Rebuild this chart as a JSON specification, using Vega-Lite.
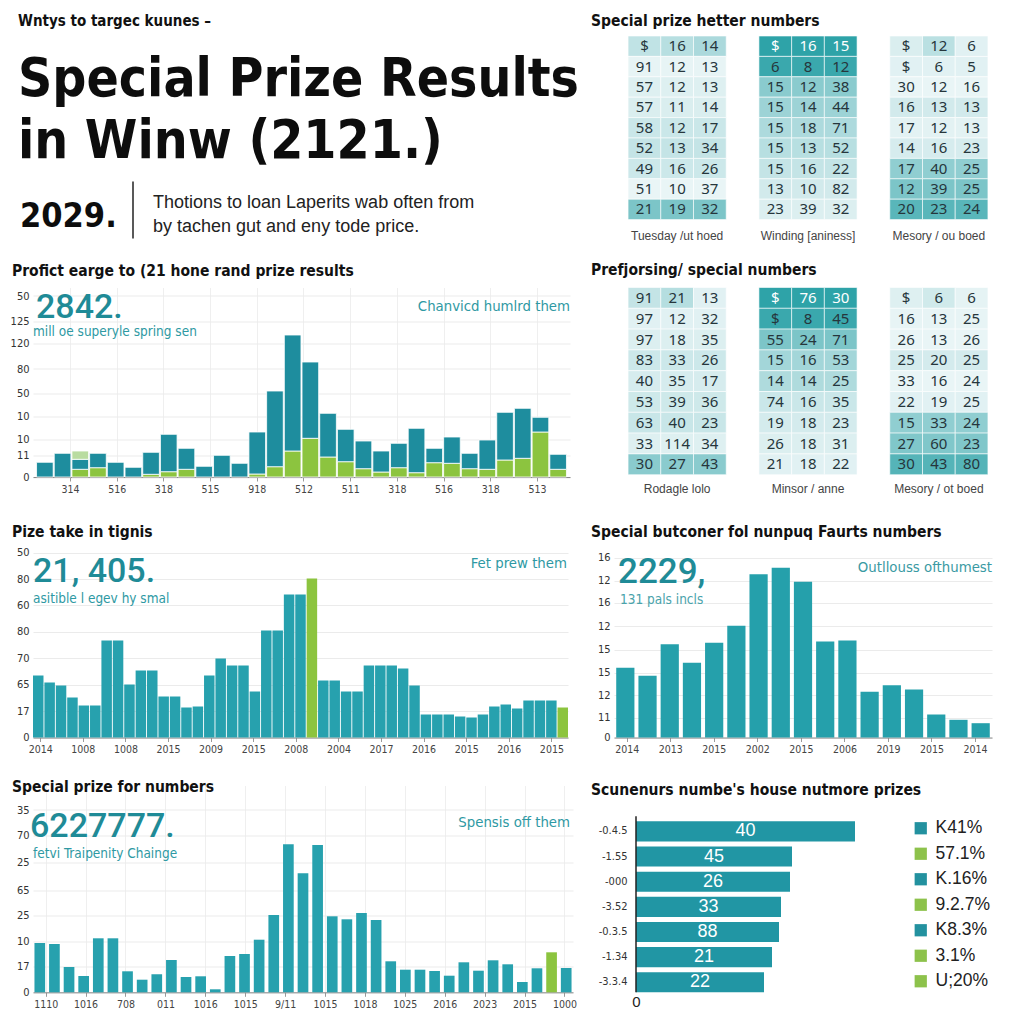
{
"$schema": "https://vega.github.io/schema/vega-lite/v6.json",
"background": "#ffffff",
"padding": {"left": 10, "top": 13, "right": 0, "bottom": 0},
"autosize": {"type": "pad"},
"columns": 2,
"bounds": "flush",
"spacing": {"row": 47.5, "column": 41},
"config": {
  "view": {"stroke": null},
  "axis": {"labelFont": "DejaVu Sans Condensed, sans-serif", "labelFontSize": 11, "labelColor": "#333333", "domain": false, "ticks": false, "gridColor": "#ebebeb", "labelOverlap": false, "labelFlush": false, "labelPadding": 4},
  "title": {"anchor": "start", "frame": "group", "baseline": "middle", "offset": 0, "font": "DejaVu Sans Condensed, sans-serif", "fontSize": 15.5, "fontWeight": "bold", "color": "#111111"}
},
"datasets": {
  "notes": [
    {"id":"kicker","t":"Wntys to targec kuunes –"},
    {"id":"h1","t":"Special Prize Results"},
    {"id":"h2","t":"in Winw (2121.)"},
    {"id":"year","t":"2029."},
    {"id":"d1","t":"Thotions to loan Laperits wab often from"},
    {"id":"d2","t":"by tachen gut and eny tode price."},
    {"id":"c2big","t":"2842."},
    {"id":"c2sub","t":"mill oe superyle spring sen"},
    {"id":"c2side","t":"Chanvicd humlrd them"},
    {"id":"c3big","t":"21, 405."},
    {"id":"c3sub","t":"asitible l egev hy smal"},
    {"id":"c3side","t":"Fet prew them"},
    {"id":"c5big","t":"2229,"},
    {"id":"c5sub","t":"131 pals incls"},
    {"id":"c5side","t":"Outllouss ofthumest"},
    {"id":"c4big","t":"6227777."},
    {"id":"c4sub","t":"fetvi Traipenity Chainge"},
    {"id":"c4side","t":"Spensis off them"}
  ],
  "c2": [
    {"slot":1,"kind":"main","value":14.7},
    {"slot":2,"kind":"main","value":23.7},
    {"slot":3,"kind":"special","value":7.7},{"slot":3,"kind":"main","value":10},{"slot":3,"kind":"cap","value":8.3},
    {"slot":4,"kind":"special","value":9.3},{"slot":4,"kind":"main","value":14.4},
    {"slot":5,"kind":"main","value":14.7},
    {"slot":6,"kind":"main","value":9.7},
    {"slot":7,"kind":"special","value":2.7},{"slot":7,"kind":"main","value":22},
    {"slot":8,"kind":"special","value":5.3},{"slot":8,"kind":"main","value":37.4},
    {"slot":9,"kind":"special","value":7.7},{"slot":9,"kind":"main","value":21},
    {"slot":10,"kind":"main","value":10.7},
    {"slot":11,"kind":"main","value":21.7},
    {"slot":12,"kind":"main","value":13.7},
    {"slot":13,"kind":"special","value":3},{"slot":13,"kind":"main","value":42},
    {"slot":14,"kind":"special","value":10.3},{"slot":14,"kind":"main","value":75.7},
    {"slot":15,"kind":"special","value":26},{"slot":15,"kind":"main","value":116},
    {"slot":16,"kind":"special","value":38.7},{"slot":16,"kind":"main","value":76.3},
    {"slot":17,"kind":"special","value":20},{"slot":17,"kind":"main","value":43.7},
    {"slot":18,"kind":"special","value":15.3},{"slot":18,"kind":"main","value":32.4},
    {"slot":19,"kind":"special","value":8.3},{"slot":19,"kind":"main","value":27.7},
    {"slot":20,"kind":"special","value":5},{"slot":20,"kind":"main","value":21},
    {"slot":21,"kind":"special","value":9.3},{"slot":21,"kind":"main","value":24.4},
    {"slot":22,"kind":"special","value":4.3},{"slot":22,"kind":"main","value":44.4},
    {"slot":23,"kind":"special","value":14.3},{"slot":23,"kind":"main","value":14.4},
    {"slot":24,"kind":"special","value":13.7},{"slot":24,"kind":"main","value":26.3},
    {"slot":25,"kind":"special","value":8.3},{"slot":25,"kind":"main","value":15.4},
    {"slot":26,"kind":"special","value":7.7},{"slot":26,"kind":"main","value":29.3},
    {"slot":27,"kind":"special","value":17},{"slot":27,"kind":"main","value":47.7},
    {"slot":28,"kind":"special","value":18.7},{"slot":28,"kind":"main","value":50},
    {"slot":29,"kind":"special","value":45},{"slot":29,"kind":"main","value":14.7},
    {"slot":30,"kind":"special","value":7.7},{"slot":30,"kind":"main","value":15}
  ],
  "c3": [
    {"slot":1,"value":62,"kind":"std"},{"slot":2,"value":55,"kind":"std"},{"slot":3,"value":52,"kind":"std"},{"slot":4,"value":40,"kind":"std"},
    {"slot":5,"value":32,"kind":"std"},{"slot":6,"value":32,"kind":"std"},{"slot":7,"value":97,"kind":"std"},{"slot":8,"value":97,"kind":"std"},
    {"slot":9,"value":53,"kind":"std"},{"slot":10,"value":67,"kind":"std"},{"slot":11,"value":67,"kind":"std"},{"slot":12,"value":41,"kind":"std"},
    {"slot":13,"value":41,"kind":"std"},{"slot":14,"value":30,"kind":"std"},{"slot":15,"value":31,"kind":"std"},{"slot":16,"value":62,"kind":"std"},
    {"slot":17,"value":79,"kind":"std"},{"slot":18,"value":72,"kind":"std"},{"slot":19,"value":72,"kind":"std"},{"slot":20,"value":46,"kind":"std"},
    {"slot":21,"value":107,"kind":"std"},{"slot":22,"value":107,"kind":"std"},{"slot":23,"value":143,"kind":"std"},{"slot":24,"value":143,"kind":"std"},
    {"slot":25,"value":159,"kind":"mark"},{"slot":26,"value":57,"kind":"std"},{"slot":27,"value":57,"kind":"std"},{"slot":28,"value":46,"kind":"std"},
    {"slot":29,"value":46,"kind":"std"},{"slot":30,"value":72,"kind":"std"},{"slot":31,"value":72,"kind":"std"},{"slot":32,"value":72,"kind":"std"},
    {"slot":33,"value":69,"kind":"std"},{"slot":34,"value":52,"kind":"std"},{"slot":35,"value":23,"kind":"std"},{"slot":36,"value":23,"kind":"std"},
    {"slot":37,"value":23,"kind":"std"},{"slot":38,"value":21,"kind":"std"},{"slot":39,"value":20,"kind":"std"},{"slot":40,"value":23,"kind":"std"},
    {"slot":41,"value":31,"kind":"std"},{"slot":42,"value":33,"kind":"std"},{"slot":43,"value":29,"kind":"std"},{"slot":44,"value":37,"kind":"std"},
    {"slot":45,"value":37,"kind":"std"},{"slot":46,"value":37,"kind":"std"},{"slot":47,"value":30,"kind":"mark"}
  ],
  "c5": [
    {"slot":1,"value":69.7},{"slot":2,"value":61.7},{"slot":3,"value":93.3},{"slot":4,"value":74.7},{"slot":5,"value":94.7},
    {"slot":6,"value":111.7},{"slot":7,"value":163.3},{"slot":8,"value":169.7},{"slot":9,"value":155.7},{"slot":10,"value":96},
    {"slot":11,"value":97},{"slot":12,"value":45.7},{"slot":13,"value":52.3},{"slot":14,"value":48},{"slot":15,"value":23},
    {"slot":16,"value":17.7},{"slot":17,"value":14.3}
  ],
  "c4": [
    {"slot":1,"value":49.3,"kind":"std"},{"slot":2,"value":48.3,"kind":"std"},{"slot":3,"value":25.3,"kind":"std"},{"slot":4,"value":16.3,"kind":"std"},
    {"slot":5,"value":54,"kind":"std"},{"slot":6,"value":54,"kind":"std"},{"slot":7,"value":21,"kind":"std"},{"slot":8,"value":12.6,"kind":"std"},
    {"slot":9,"value":18,"kind":"std"},{"slot":10,"value":32.3,"kind":"std"},{"slot":11,"value":15.3,"kind":"std"},{"slot":12,"value":16,"kind":"std"},
    {"slot":13,"value":3,"kind":"std"},{"slot":14,"value":36.3,"kind":"std"},{"slot":15,"value":38.3,"kind":"std"},{"slot":16,"value":52.6,"kind":"std"},
    {"slot":17,"value":77.3,"kind":"std"},{"slot":18,"value":148,"kind":"std"},{"slot":19,"value":119,"kind":"std"},{"slot":20,"value":147.3,"kind":"std"},
    {"slot":21,"value":76,"kind":"std"},{"slot":22,"value":73,"kind":"std"},{"slot":23,"value":79.3,"kind":"std"},{"slot":24,"value":72.3,"kind":"std"},
    {"slot":25,"value":31,"kind":"std"},{"slot":26,"value":22.6,"kind":"std"},{"slot":27,"value":22.6,"kind":"std"},{"slot":28,"value":21.3,"kind":"std"},
    {"slot":29,"value":16.6,"kind":"std"},{"slot":30,"value":30,"kind":"std"},{"slot":31,"value":21.6,"kind":"std"},{"slot":32,"value":32,"kind":"std"},
    {"slot":33,"value":28,"kind":"std"},{"slot":34,"value":10.3,"kind":"std"},{"slot":35,"value":24,"kind":"std"},{"slot":36,"value":40,"kind":"mark"},
    {"slot":37,"value":24.3,"kind":"std"}
  ],
  "t1": [
    {"c":"A1","r":1,"v":"$","s":2.5},{"c":"A2","r":1,"v":"16","s":3},{"c":"A3","r":1,"v":"14","s":3.6},
    {"c":"A1","r":2,"v":"91","s":0.5},{"c":"A2","r":2,"v":"12","s":0.5},{"c":"A3","r":2,"v":"13","s":0.5},
    {"c":"A1","r":3,"v":"57","s":1},{"c":"A2","r":3,"v":"12","s":1},{"c":"A3","r":3,"v":"13","s":1},
    {"c":"A1","r":4,"v":"57","s":1.2},{"c":"A2","r":4,"v":"11","s":1.2},{"c":"A3","r":4,"v":"14","s":1.2},
    {"c":"A1","r":5,"v":"58","s":2},{"c":"A2","r":5,"v":"12","s":2},{"c":"A3","r":5,"v":"17","s":2},
    {"c":"A1","r":6,"v":"52","s":2.3},{"c":"A2","r":6,"v":"13","s":2.3},{"c":"A3","r":6,"v":"34","s":2.3},
    {"c":"A1","r":7,"v":"49","s":1.9},{"c":"A2","r":7,"v":"16","s":1.9},{"c":"A3","r":7,"v":"26","s":1.9},
    {"c":"A1","r":8,"v":"51","s":0.4},{"c":"A2","r":8,"v":"10","s":0.4},{"c":"A3","r":8,"v":"37","s":0.4},
    {"c":"A1","r":9,"v":"21","s":6},{"c":"A2","r":9,"v":"19","s":6},{"c":"A3","r":9,"v":"32","s":6},
    {"c":"B1","r":1,"v":"$","s":10},{"c":"B2","r":1,"v":"16","s":10},{"c":"B3","r":1,"v":"15","s":10},
    {"c":"B1","r":2,"v":"6","s":9.4},{"c":"B2","r":2,"v":"8","s":9.4},{"c":"B3","r":2,"v":"12","s":9.4},
    {"c":"B1","r":3,"v":"15","s":5.3},{"c":"B2","r":3,"v":"12","s":5.3},{"c":"B3","r":3,"v":"38","s":5.3},
    {"c":"B1","r":4,"v":"15","s":4.3},{"c":"B2","r":4,"v":"14","s":4.3},{"c":"B3","r":4,"v":"44","s":4.3},
    {"c":"B1","r":5,"v":"15","s":3.5},{"c":"B2","r":5,"v":"18","s":3.5},{"c":"B3","r":5,"v":"71","s":3.5},
    {"c":"B1","r":6,"v":"15","s":3},{"c":"B2","r":6,"v":"13","s":3},{"c":"B3","r":6,"v":"52","s":3},
    {"c":"B1","r":7,"v":"15","s":2.3},{"c":"B2","r":7,"v":"16","s":2.3},{"c":"B3","r":7,"v":"22","s":2.3},
    {"c":"B1","r":8,"v":"13","s":1.6},{"c":"B2","r":8,"v":"10","s":1.6},{"c":"B3","r":8,"v":"82","s":1.6},
    {"c":"B1","r":9,"v":"23","s":1.1},{"c":"B2","r":9,"v":"39","s":1.1},{"c":"B3","r":9,"v":"32","s":1.1},
    {"c":"C1","r":1,"v":"$","s":1.2},{"c":"C2","r":1,"v":"12","s":2.8},{"c":"C3","r":1,"v":"6","s":0.8},
    {"c":"C1","r":2,"v":"$","s":0.8},{"c":"C2","r":2,"v":"6","s":0.8},{"c":"C3","r":2,"v":"5","s":0.8},
    {"c":"C1","r":3,"v":"30","s":0.4},{"c":"C2","r":3,"v":"12","s":0.4},{"c":"C3","r":3,"v":"16","s":0.4},
    {"c":"C1","r":4,"v":"16","s":1.6},{"c":"C2","r":4,"v":"13","s":1.6},{"c":"C3","r":4,"v":"13","s":1.6},
    {"c":"C1","r":5,"v":"17","s":0.7},{"c":"C2","r":5,"v":"12","s":0.7},{"c":"C3","r":5,"v":"13","s":0.7},
    {"c":"C1","r":6,"v":"14","s":1.4},{"c":"C2","r":6,"v":"16","s":1.4},{"c":"C3","r":6,"v":"23","s":1.4},
    {"c":"C1","r":7,"v":"17","s":5},{"c":"C2","r":7,"v":"40","s":5},{"c":"C3","r":7,"v":"25","s":5},
    {"c":"C1","r":8,"v":"12","s":6},{"c":"C2","r":8,"v":"39","s":6},{"c":"C3","r":8,"v":"25","s":6},
    {"c":"C1","r":9,"v":"20","s":7.8},{"c":"C2","r":9,"v":"23","s":7.8},{"c":"C3","r":9,"v":"24","s":7.8}
  ],
  "t2": [
    {"c":"A1","r":1,"v":"91","s":2.3},{"c":"A2","r":1,"v":"21","s":3.1},{"c":"A3","r":1,"v":"13","s":0.8},
    {"c":"A1","r":2,"v":"97","s":0.8},{"c":"A2","r":2,"v":"12","s":0.8},{"c":"A3","r":2,"v":"32","s":0.8},
    {"c":"A1","r":3,"v":"97","s":1.1},{"c":"A2","r":3,"v":"18","s":1.1},{"c":"A3","r":3,"v":"35","s":1.1},
    {"c":"A1","r":4,"v":"83","s":1.9},{"c":"A2","r":4,"v":"33","s":1.9},{"c":"A3","r":4,"v":"26","s":1.9},
    {"c":"A1","r":5,"v":"40","s":1.4},{"c":"A2","r":5,"v":"35","s":1.4},{"c":"A3","r":5,"v":"17","s":1.4},
    {"c":"A1","r":6,"v":"53","s":1.8},{"c":"A2","r":6,"v":"39","s":1.8},{"c":"A3","r":6,"v":"36","s":1.8},
    {"c":"A1","r":7,"v":"63","s":2.1},{"c":"A2","r":7,"v":"40","s":2.1},{"c":"A3","r":7,"v":"23","s":2.1},
    {"c":"A1","r":8,"v":"33","s":1},{"c":"A2","r":8,"v":"114","s":1},{"c":"A3","r":8,"v":"34","s":1},
    {"c":"A1","r":9,"v":"30","s":5.3},{"c":"A2","r":9,"v":"27","s":5.3},{"c":"A3","r":9,"v":"43","s":5.3},
    {"c":"B1","r":1,"v":"$","s":10},{"c":"B2","r":1,"v":"76","s":10},{"c":"B3","r":1,"v":"30","s":10},
    {"c":"B1","r":2,"v":"$","s":9.4},{"c":"B2","r":2,"v":"8","s":9.4},{"c":"B3","r":2,"v":"45","s":9.4},
    {"c":"B1","r":3,"v":"55","s":6},{"c":"B2","r":3,"v":"24","s":6},{"c":"B3","r":3,"v":"71","s":6},
    {"c":"B1","r":4,"v":"15","s":4},{"c":"B2","r":4,"v":"16","s":4},{"c":"B3","r":4,"v":"53","s":4},
    {"c":"B1","r":5,"v":"14","s":3.4},{"c":"B2","r":5,"v":"14","s":3.4},{"c":"B3","r":5,"v":"25","s":3.4},
    {"c":"B1","r":6,"v":"74","s":2},{"c":"B2","r":6,"v":"16","s":2},{"c":"B3","r":6,"v":"35","s":2},
    {"c":"B1","r":7,"v":"19","s":1.5},{"c":"B2","r":7,"v":"18","s":1.5},{"c":"B3","r":7,"v":"23","s":1.5},
    {"c":"B1","r":8,"v":"26","s":1.1},{"c":"B2","r":8,"v":"18","s":1.1},{"c":"B3","r":8,"v":"31","s":1.1},
    {"c":"B1","r":9,"v":"21","s":0.8},{"c":"B2","r":9,"v":"18","s":0.8},{"c":"B3","r":9,"v":"22","s":0.8},
    {"c":"C1","r":1,"v":"$","s":1},{"c":"C2","r":1,"v":"6","s":1.7},{"c":"C3","r":1,"v":"6","s":0.6},
    {"c":"C1","r":2,"v":"16","s":0.5},{"c":"C2","r":2,"v":"13","s":0.5},{"c":"C3","r":2,"v":"25","s":0.5},
    {"c":"C1","r":3,"v":"26","s":0.4},{"c":"C2","r":3,"v":"13","s":0.4},{"c":"C3","r":3,"v":"26","s":0.4},
    {"c":"C1","r":4,"v":"25","s":1.5},{"c":"C2","r":4,"v":"20","s":1.5},{"c":"C3","r":4,"v":"25","s":1.5},
    {"c":"C1","r":5,"v":"33","s":0.4},{"c":"C2","r":5,"v":"16","s":0.4},{"c":"C3","r":5,"v":"24","s":0.4},
    {"c":"C1","r":6,"v":"22","s":0.8},{"c":"C2","r":6,"v":"19","s":0.8},{"c":"C3","r":6,"v":"25","s":0.8},
    {"c":"C1","r":7,"v":"15","s":5},{"c":"C2","r":7,"v":"33","s":5},{"c":"C3","r":7,"v":"24","s":5},
    {"c":"C1","r":8,"v":"27","s":5.8},{"c":"C2","r":8,"v":"60","s":5.8},{"c":"C3","r":8,"v":"23","s":5.8},
    {"c":"C1","r":9,"v":"30","s":8},{"c":"C2","r":9,"v":"43","s":8},{"c":"C3","r":9,"v":"80","s":8}
  ],
  "cap1": [
    {"c":"A2","r":"cap","label":"Tuesday /ut hoed"},
    {"c":"B2","r":"cap","label":"Winding [aniness]"},
    {"c":"C2","r":"cap","label":"Mesory / ou boed"}
  ],
  "cap2": [
    {"c":"A2","r":"cap","label":"Rodagle lolo"},
    {"c":"B2","r":"cap","label":"Minsor / anne"},
    {"c":"C2","r":"cap","label":"Mesory / ot boed"}
  ],
  "hb": [
    {"cat":"-0.4.5","amount":219,"lbl":"40"},
    {"cat":"-1.55","amount":156,"lbl":"45"},
    {"cat":"-000","amount":154,"lbl":"26"},
    {"cat":"-3.52","amount":145,"lbl":"33"},
    {"cat":"-0.3.5","amount":143,"lbl":"88"},
    {"cat":"-1.34","amount":136,"lbl":"21"},
    {"cat":"-3.3.4","amount":128,"lbl":"22"}
  ],
  "legendItems": [
    {"item":"K41%"},{"item":"57.1%"},{"item":"K.16%"},{"item":"9.2.7%"},{"item":"K8.3%"},{"item":"3.1%"},{"item":"U;20%"}
  ]
},
"concat": [
  {
    "width": 540, "height": 204,
    "data": {"name": "notes"},
    "layer": [
      {"transform": [{"filter": "datum.id == 'kicker'"}],
       "mark": {"type": "text", "align": "left", "baseline": "middle", "font": "DejaVu Sans Condensed, sans-serif", "fontSize": 15, "fontWeight": "bold", "color": "#111111"},
       "encoding": {"x": {"datum": -15, "type": "quantitative", "scale": {"domain": [0, 540], "nice": false}, "axis": null, "title": null},
                    "y": {"datum": -15.5, "type": "quantitative", "scale": {"domain": [0, 204], "nice": false, "reverse": true}, "axis": null, "title": null},
                    "text": {"field": "t"}}},
      {"transform": [{"filter": "datum.id == 'h1'"}],
       "mark": {"type": "text", "align": "left", "baseline": "alphabetic", "font": "DejaVu Sans Condensed, sans-serif", "fontSize": 53, "fontWeight": "bold", "color": "#0d0d0d"},
       "encoding": {"x": {"datum": -15, "type": "quantitative", "title": null}, "y": {"datum": 59.5, "type": "quantitative", "title": null}, "text": {"field": "t"}}},
      {"transform": [{"filter": "datum.id == 'h2'"}],
       "mark": {"type": "text", "align": "left", "baseline": "alphabetic", "font": "DejaVu Sans Condensed, sans-serif", "fontSize": 53, "fontWeight": "bold", "color": "#0d0d0d"},
       "encoding": {"x": {"datum": -15, "type": "quantitative", "title": null}, "y": {"datum": 121.5, "type": "quantitative", "title": null}, "text": {"field": "t"}}},
      {"transform": [{"filter": "datum.id == 'year'"}],
       "mark": {"type": "text", "align": "left", "baseline": "alphabetic", "font": "DejaVu Sans Condensed, sans-serif", "fontSize": 34, "fontWeight": "bold", "color": "#0d0d0d"},
       "encoding": {"x": {"datum": -13, "type": "quantitative", "title": null}, "y": {"datum": 190.5, "type": "quantitative", "title": null}, "text": {"field": "t"}}},
      {"transform": [{"filter": "datum.id == 'year'"}],
       "mark": {"type": "rule", "color": "#222222", "strokeWidth": 1.5},
       "encoding": {"x": {"datum": 100, "type": "quantitative", "title": null}, "y": {"datum": 145.5, "type": "quantitative", "title": null}, "y2": {"datum": 202.5}}},
      {"transform": [{"filter": "datum.id == 'd1'"}],
       "mark": {"type": "text", "align": "left", "baseline": "middle", "font": "Liberation Sans, Arial, sans-serif", "fontSize": 18, "color": "#222222"},
       "encoding": {"x": {"datum": 120, "type": "quantitative", "title": null}, "y": {"datum": 166.5, "type": "quantitative", "title": null}, "text": {"field": "t"}}},
      {"transform": [{"filter": "datum.id == 'd2'"}],
       "mark": {"type": "text", "align": "left", "baseline": "middle", "font": "Liberation Sans, Arial, sans-serif", "fontSize": 18, "color": "#222222"},
       "encoding": {"x": {"datum": 120, "type": "quantitative", "title": null}, "y": {"datum": 190.5, "type": "quantitative", "title": null}, "text": {"field": "t"}}}
    ]
  },
  {
    "width": 388, "height": 204,
    "title": {"text": "Special prize hetter numbers", "dx": -23, "dy": -2.5},
    "layer": [
      {"data": {"name": "t1"},
       "mark": {"type": "rect", "stroke": "#ffffff", "strokeWidth": 0.6},
       "encoding": {
         "x": {"field": "c", "type": "ordinal", "scale": {"type": "band", "domain": ["A1","A2","A3","g1","B1","B2","B3","g2","C1","C2","C3"], "paddingInner": 0, "paddingOuter": 0.43}, "axis": null, "title": null},
         "y": {"field": "r", "type": "ordinal", "scale": {"type": "band", "domain": [1,2,3,4,5,6,7,8,9,"cap"], "paddingInner": 0, "paddingOuter": 0}, "axis": null, "title": null},
         "color": {"field": "s", "type": "quantitative", "scale": {"domain": [0, 10], "range": ["#f1f8f9", "#2ea3a8"], "interpolate": "rgb"}, "legend": null}}},
      {"data": {"name": "t1"},
       "mark": {"type": "text", "font": "Noto Sans, Open Sans, sans-serif", "fontSize": 15},
       "encoding": {
         "x": {"field": "c", "type": "ordinal", "scale": {"type": "band", "domain": ["A1","A2","A3","g1","B1","B2","B3","g2","C1","C2","C3"], "paddingInner": 0, "paddingOuter": 0.43}, "axis": null, "title": null},
         "y": {"field": "r", "type": "ordinal", "scale": {"type": "band", "domain": [1,2,3,4,5,6,7,8,9,"cap"], "paddingInner": 0, "paddingOuter": 0}, "axis": null, "title": null},
         "text": {"field": "v"},
         "color": {"condition": {"test": "datum.s >= 9.7", "value": "#ffffff"}, "value": "#26363c"}}},
      {"data": {"name": "cap1"},
       "mark": {"type": "text", "font": "Liberation Sans, Arial, sans-serif", "fontSize": 12, "color": "#444444", "dy": 6},
       "encoding": {
         "x": {"field": "c", "type": "ordinal", "scale": {"type": "band", "domain": ["A1","A2","A3","g1","B1","B2","B3","g2","C1","C2","C3"], "paddingInner": 0, "paddingOuter": 0.43}, "axis": null, "title": null},
         "y": {"field": "r", "type": "ordinal", "scale": {"type": "band", "domain": [1,2,3,4,5,6,7,8,9,"cap"], "paddingInner": 0, "paddingOuter": 0}, "axis": null, "title": null},
         "text": {"field": "label"}}}
    ]
  },
  {
    "width": 537, "height": 189.5,
    "title": {"text": "Profict earge to (21 hone rand prize results", "dx": -21, "dy": -4.5},
    "layer": [
      {"data": {"name": "c2"},
       "mark": {"type": "bar", "stroke": "#ffffff", "strokeWidth": 0.8},
       "encoding": {
         "x": {"field": "slot", "type": "ordinal", "scale": {"paddingInner": 0.06, "paddingOuter": 0.2}, "axis": null, "title": null},
         "y": {"field": "value", "type": "quantitative", "stack": "zero", "title": null,
               "scale": {"domain": [0, 189.5], "nice": false},
               "axis": {"values": [0,22,38,61,84,108,134,156,181], "tickCount": 50, "labelExpr": "['0','11','10','10','50','80','120','125','50'][indexof([0,22,38,61,84,108,134,156,181], datum.value)]", "grid": true, "labelOverlap": false}},
         "color": {"field": "kind", "type": "nominal", "scale": {"domain": ["special","main","cap"], "range": ["#8cc43f","#1e8d9e","#b9dca0"]}, "legend": null},
         "order": {"field": "kind", "sort": "descending"}}},
      {"data": {"name": "notes"},
       "layer": [
         {"transform": [{"filter": "datum.id == 'c2big'"}],
          "mark": {"type": "text", "align": "left", "baseline": "alphabetic", "font": "Roboto, sans-serif", "fontSize": 34, "fontWeight": 500, "color": "#1f8b97"},
          "encoding": {
            "x": {"datum": -0.728, "type": "quantitative", "title": null, "scale": {"domain": [-0.792, 10.707], "nice": false, "zero": false},
                  "axis": {"values": [0,1,2,3,4,5,6,7,8,9,10], "tickCount": 50, "labelExpr": "['314','516','318','515','918','512','511','318','516','318','513'][datum.value]", "grid": true, "gridColor": "#efefef", "domain": true, "domainColor": "#8a8a8a", "ticks": true, "tickColor": "#9a9a9a", "tickSize": 4, "labelFontSize": 10.5, "labelPadding": 3, "labelColor": "#444444", "labelOverlap": false}},
            "y": {"datum": 159.5, "type": "quantitative", "title": null},
            "text": {"field": "t"}}},
         {"transform": [{"filter": "datum.id == 'c2sub'"}],
          "mark": {"type": "text", "align": "left", "baseline": "middle", "font": "DejaVu Sans Condensed, sans-serif", "fontSize": 13.5, "color": "#2e99a3"},
          "encoding": {"x": {"datum": -0.792, "type": "quantitative", "title": null}, "y": {"datum": 145.5, "type": "quantitative", "title": null}, "text": {"field": "t"}}},
         {"transform": [{"filter": "datum.id == 'c2side'"}],
          "mark": {"type": "text", "align": "right", "baseline": "middle", "font": "DejaVu Sans Condensed, sans-serif", "fontSize": 14.8, "color": "#2e99a3"},
          "encoding": {"x": {"datum": 10.707, "type": "quantitative", "title": null}, "y": {"datum": 170.5, "type": "quantitative", "title": null}, "text": {"field": "t"}}}
       ]}
    ],
    "resolve": {"scale": {"x": "independent"}}
  },
  {
    "width": 388, "height": 208,
    "title": {"text": "Prefjorsing/ special numbers", "dx": -23, "dy": -4.5},
    "layer": [
      {"data": {"name": "t2"},
       "mark": {"type": "rect", "stroke": "#ffffff", "strokeWidth": 0.6},
       "encoding": {
         "x": {"field": "c", "type": "ordinal", "scale": {"type": "band", "domain": ["A1","A2","A3","g1","B1","B2","B3","g2","C1","C2","C3"], "paddingInner": 0, "paddingOuter": 0.43}, "axis": null, "title": null},
         "y": {"field": "r", "type": "ordinal", "scale": {"type": "band", "domain": [1,2,3,4,5,6,7,8,9,"cap"], "paddingInner": 0, "paddingOuter": 0}, "axis": null, "title": null},
         "color": {"field": "s", "type": "quantitative", "scale": {"domain": [0, 10], "range": ["#f1f8f9", "#2ea3a8"], "interpolate": "rgb"}, "legend": null}}},
      {"data": {"name": "t2"},
       "mark": {"type": "text", "font": "Noto Sans, Open Sans, sans-serif", "fontSize": 15},
       "encoding": {
         "x": {"field": "c", "type": "ordinal", "scale": {"type": "band", "domain": ["A1","A2","A3","g1","B1","B2","B3","g2","C1","C2","C3"], "paddingInner": 0, "paddingOuter": 0.43}, "axis": null, "title": null},
         "y": {"field": "r", "type": "ordinal", "scale": {"type": "band", "domain": [1,2,3,4,5,6,7,8,9,"cap"], "paddingInner": 0, "paddingOuter": 0}, "axis": null, "title": null},
         "text": {"field": "v"},
         "color": {"condition": {"test": "datum.s >= 9.7", "value": "#ffffff"}, "value": "#26363c"}}},
      {"data": {"name": "cap2"},
       "mark": {"type": "text", "font": "Liberation Sans, Arial, sans-serif", "fontSize": 12, "color": "#444444", "dy": 4},
       "encoding": {
         "x": {"field": "c", "type": "ordinal", "scale": {"type": "band", "domain": ["A1","A2","A3","g1","B1","B2","B3","g2","C1","C2","C3"], "paddingInner": 0, "paddingOuter": 0.43}, "axis": null, "title": null},
         "y": {"field": "r", "type": "ordinal", "scale": {"type": "band", "domain": [1,2,3,4,5,6,7,8,9,"cap"], "paddingInner": 0, "paddingOuter": 0}, "axis": null, "title": null},
         "text": {"field": "label"}}}
    ]
  },
  {
    "width": 535, "height": 194.5,
    "title": {"text": "Pize take in tignis", "dx": -21, "dy": 1},
    "layer": [
      {"data": {"name": "c3"},
       "mark": {"type": "bar"},
       "encoding": {
         "x": {"field": "slot", "type": "ordinal", "scale": {"paddingInner": 0.08, "paddingOuter": 0}, "axis": null, "title": null},
         "y": {"field": "value", "type": "quantitative", "title": null,
               "scale": {"domain": [0, 194.5], "nice": false},
               "axis": {"values": [0,26.4,52.8,79.2,105.6,132,158.4,184.8], "tickCount": 50, "labelExpr": "['0','17','65','70','80','60','80','50'][indexof([0,26.4,52.8,79.2,105.6,132,158.4,184.8], datum.value)]", "grid": true, "labelOverlap": false}},
         "color": {"field": "kind", "type": "nominal", "scale": {"domain": ["std","mark"], "range": ["#27a1ae","#8cc43f"]}, "legend": null}}},
      {"data": {"name": "notes"},
       "layer": [
         {"transform": [{"filter": "datum.id == 'c3big'"}],
          "mark": {"type": "text", "align": "left", "baseline": "alphabetic", "font": "Roboto, sans-serif", "fontSize": 34, "fontWeight": 500, "color": "#1f8b97"},
          "encoding": {
            "x": {"datum": -0.169, "type": "quantitative", "title": null, "scale": {"domain": [-0.169, 12.39], "nice": false, "zero": false},
                  "axis": {"values": [0,1,2,3,4,5,6,7,8,9,10,11,12], "tickCount": 50, "labelExpr": "['2014','1008','1008','2015','2009','2015','2008','2004','2017','2016','2015','2016','2015'][datum.value]", "grid": false, "domain": true, "domainColor": "#8a8a8a", "ticks": true, "tickColor": "#9a9a9a", "tickSize": 4, "labelFontSize": 10.5, "labelPadding": 3, "labelColor": "#444444", "labelOverlap": false}},
            "y": {"datum": 155.5, "type": "quantitative", "title": null},
            "text": {"field": "t"}}},
         {"transform": [{"filter": "datum.id == 'c3sub'"}],
          "mark": {"type": "text", "align": "left", "baseline": "middle", "font": "DejaVu Sans Condensed, sans-serif", "fontSize": 13.5, "color": "#2e99a3"},
          "encoding": {"x": {"datum": -0.169, "type": "quantitative", "title": null}, "y": {"datum": 139, "type": "quantitative", "title": null}, "text": {"field": "t"}}},
         {"transform": [{"filter": "datum.id == 'c3side'"}],
          "mark": {"type": "text", "align": "right", "baseline": "middle", "font": "DejaVu Sans Condensed, sans-serif", "fontSize": 14.8, "color": "#2e99a3"},
          "encoding": {"x": {"datum": 12.366, "type": "quantitative", "title": null}, "y": {"datum": 173.3, "type": "quantitative", "title": null}, "text": {"field": "t"}}}
       ]}
    ],
    "resolve": {"scale": {"x": "independent"}}
  },
  {
    "width": 378, "height": 194.5,
    "title": {"text": "Special butconer fol nunpuq Faurts numbers", "dx": -23, "dy": 1},
    "layer": [
      {"data": {"name": "c5"},
       "mark": {"type": "bar", "color": "#25a0ab"},
       "encoding": {
         "x": {"field": "slot", "type": "ordinal", "scale": {"paddingInner": 0.18, "paddingOuter": 0.1}, "axis": null, "title": null},
         "y": {"field": "value", "type": "quantitative", "title": null,
               "scale": {"domain": [0, 194.5], "nice": false},
               "axis": {"values": [0,20,42.3,64.7,88,111.3,134.7,156.7,179.7], "tickCount": 50, "labelExpr": "['0','11','12','15','15','12','16','12','16'][indexof([0,20,42.3,64.7,88,111.3,134.7,156.7,179.7], datum.value)]", "grid": true, "labelOverlap": false}}}},
      {"data": {"name": "notes"},
       "layer": [
         {"transform": [{"filter": "datum.id == 'c5big'"}],
          "mark": {"type": "text", "align": "left", "baseline": "alphabetic", "font": "Roboto, sans-serif", "fontSize": 35, "fontWeight": 500, "color": "#1f8b97"},
          "encoding": {
            "x": {"datum": -0.2, "type": "quantitative", "title": null, "scale": {"domain": [-0.292, 8.39], "nice": false, "zero": false},
                  "axis": {"values": [0,1,2,3,4,5,6,7,8], "tickCount": 50, "labelExpr": "['2014','2013','2015','2002','2015','2006','2019','2015','2014'][datum.value]", "grid": false, "domain": true, "domainColor": "#8a8a8a", "ticks": true, "tickColor": "#9a9a9a", "tickSize": 4, "labelFontSize": 10.5, "labelPadding": 3, "labelColor": "#444444", "labelOverlap": false}},
            "y": {"datum": 155, "type": "quantitative", "title": null},
            "text": {"field": "t"}}},
         {"transform": [{"filter": "datum.id == 'c5sub'"}],
          "mark": {"type": "text", "align": "left", "baseline": "middle", "font": "DejaVu Sans Condensed, sans-serif", "fontSize": 13.5, "color": "#4aa3ab"},
          "encoding": {"x": {"datum": -0.154, "type": "quantitative", "title": null}, "y": {"datum": 137.5, "type": "quantitative", "title": null}, "text": {"field": "t"}}},
         {"transform": [{"filter": "datum.id == 'c5side'"}],
          "mark": {"type": "text", "align": "right", "baseline": "middle", "font": "DejaVu Sans Condensed, sans-serif", "fontSize": 14.8, "color": "#3a9aa3"},
          "encoding": {"x": {"datum": 8.39, "type": "quantitative", "title": null}, "y": {"datum": 170, "type": "quantitative", "title": null}, "text": {"field": "t"}}}
       ]}
    ],
    "resolve": {"scale": {"x": "independent"}}
  },
  {
    "width": 540, "height": 206.8,
    "title": {"text": "Special prize for numbers", "dx": -21, "dy": 13.5},
    "layer": [
      {"data": {"name": "c4"},
       "mark": {"type": "bar"},
       "encoding": {
         "x": {"field": "slot", "type": "ordinal", "scale": {"paddingInner": 0.27, "paddingOuter": 0.1}, "axis": null, "title": null},
         "y": {"field": "value", "type": "quantitative", "title": null,
               "scale": {"domain": [0, 206.8], "nice": false},
               "axis": {"values": [0,26,51,76.6,102.3,130,156.6,182.3], "tickCount": 50, "labelExpr": "['0','17','10','25','65','25','70','35'][indexof([0,26,51,76.6,102.3,130,156.6,182.3], datum.value)]", "grid": true, "labelOverlap": false}},
         "color": {"field": "kind", "type": "nominal", "scale": {"domain": ["std","mark"], "range": ["#27a1ae","#8cc43f"]}, "legend": null}}},
      {"data": {"name": "notes"},
       "layer": [
         {"transform": [{"filter": "datum.id == 'c4big'"}],
          "mark": {"type": "text", "align": "left", "baseline": "alphabetic", "font": "Roboto, sans-serif", "fontSize": 34, "fontWeight": 500, "color": "#1f8b97"},
          "encoding": {
            "x": {"datum": -0.393, "type": "quantitative", "title": null, "scale": {"domain": [-0.318, 13.215], "nice": false, "zero": false},
                  "axis": {"values": [0,1,2,3,4,5,6,7,8,9,10,11,12,13], "tickCount": 50, "labelExpr": "['1110','1016','708','011','1016','1015','9/11','1015','1018','1025','2016','2023','2015','1000'][datum.value]", "grid": true, "gridColor": "#efefef", "domain": true, "domainColor": "#8a8a8a", "ticks": true, "tickColor": "#9a9a9a", "tickSize": 4, "labelFontSize": 10.5, "labelPadding": 3, "labelColor": "#444444", "labelOverlap": false}},
            "y": {"datum": 155, "type": "quantitative", "title": null},
            "text": {"field": "t"}}},
         {"transform": [{"filter": "datum.id == 'c4sub'"}],
          "mark": {"type": "text", "align": "left", "baseline": "middle", "font": "DejaVu Sans Condensed, sans-serif", "fontSize": 13.5, "color": "#2e99a3"},
          "encoding": {"x": {"datum": -0.318, "type": "quantitative", "title": null}, "y": {"datum": 138.3, "type": "quantitative", "title": null}, "text": {"field": "t"}}},
         {"transform": [{"filter": "datum.id == 'c4side'"}],
          "mark": {"type": "text", "align": "right", "baseline": "middle", "font": "DejaVu Sans Condensed, sans-serif", "fontSize": 14.8, "color": "#2e99a3"},
          "encoding": {"x": {"datum": 13.14, "type": "quantitative", "title": null}, "y": {"datum": 169, "type": "quantitative", "title": null}, "text": {"field": "t"}}}
       ]}
    ],
    "resolve": {"scale": {"x": "independent"}}
  },
  {
    "width": 378, "height": 206.8,
    "title": {"text": "Scunenurs numbe's house nutmore prizes", "dx": -23, "dy": 16.5},
    "layer": [
      {"data": {"name": "hb"},
       "mark": {"type": "bar", "color": "#2196a4"},
       "encoding": {
         "y": {"field": "cat", "type": "nominal", "sort": null, "title": null,
               "scale": {"type": "band", "paddingInner": 0.2, "paddingOuter": 0.713, "align": 1},
               "axis": {"offset": -22, "domain": false, "ticks": false, "labelPadding": 9, "labelFontSize": 11, "labelOverlap": false}},
         "x": {"field": "amount", "type": "quantitative", "title": null,
               "scale": {"domain": [-22, 356], "nice": false},
               "axis": {"values": [0], "grid": false, "domain": false, "ticks": false, "labelFontSize": 15, "labelColor": "#222222", "labelPadding": 2, "labelFont": "Liberation Sans, Arial, sans-serif"}}}},
      {"data": {"name": "hb"},
       "mark": {"type": "text", "color": "#ffffff", "font": "Liberation Sans, Arial, sans-serif", "fontSize": 18},
       "encoding": {
         "y": {"field": "cat", "type": "nominal", "sort": null, "title": null, "scale": {"type": "band", "paddingInner": 0.2, "paddingOuter": 0.713, "align": 1}, "axis": null},
         "x": {"field": "amount", "type": "quantitative", "title": null, "scale": {"domain": [-44, 712], "nice": false}, "axis": null},
         "text": {"field": "lbl"}}},
      {"data": {"name": "hb"},
       "transform": [{"filter": "datum.lbl == '40'"}],
       "mark": {"type": "rule", "color": "#222222", "strokeWidth": 1.5},
       "encoding": {
         "x": {"datum": 0, "type": "quantitative", "title": null, "scale": {"domain": [-22, 356], "nice": false}, "axis": null},
         "y": {"datum": 0, "type": "quantitative", "title": null, "scale": {"domain": [0, 206.8], "nice": false}, "axis": null},
         "y2": {"datum": 176}}},
      {"data": {"name": "legendItems"},
       "mark": {"type": "square", "opacity": 0},
       "encoding": {
         "color": {"field": "item", "type": "nominal", "sort": null,
                   "scale": {"domain": ["K41%","57.1%","K.16%","9.2.7%","K8.3%","3.1%","U;20%"], "range": ["#23919f","#8dc24b","#23919f","#8dc24b","#23919f","#8dc24b","#8dc24b"]},
                   "legend": {"title": null, "orient": "bottom-right", "offset": 2, "symbolType": "square", "symbolSize": 150, "symbolOpacity": 1, "symbolStrokeWidth": 0, "labelFont": "Liberation Sans, Arial, sans-serif", "labelFontSize": 17.5, "labelColor": "#222222", "rowPadding": 6.5, "labelOffset": 6, "padding": 0}}}}
    ],
    "resolve": {"scale": {"x": "independent", "y": "independent"}}
  }
]
}
